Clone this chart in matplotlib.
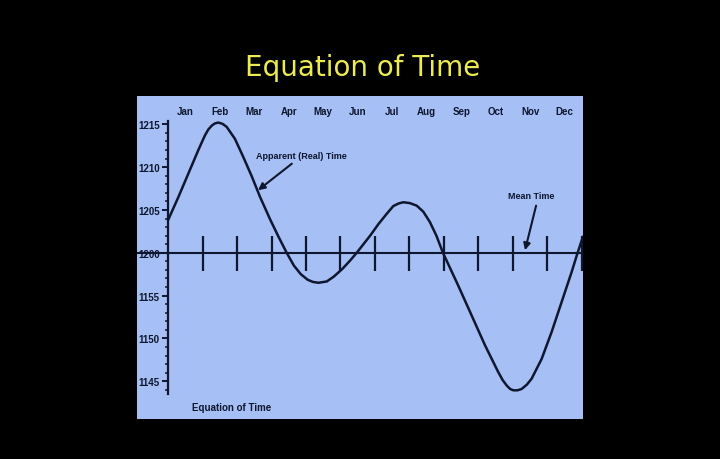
import matplotlib
matplotlib.use("Agg")
import matplotlib.pyplot as plt
from matplotlib.ticker import FixedLocator

# ---- data ----
months = ["Jan", "Feb", "Mar", "Apr", "May", "Jun",
          "Jul", "Aug", "Sep", "Oct", "Nov", "Dec"]
month_bounds = [1, 2, 3, 4, 5, 6, 7, 8, 9, 10, 11, 12]

# time of year in months (0 = 1 Jan) and apparent-time offset in minutes
t_months = [0.00, 0.30, 0.59, 0.88, 1.07, 1.17, 1.27, 1.36, 1.46, 1.58,
            1.70, 1.94, 2.18, 2.43, 2.67, 2.96, 3.20, 3.44, 3.65, 3.85,
            4.05, 4.20, 4.36, 4.60, 4.80, 5.05, 5.28, 5.47, 5.86, 6.10,
            6.34, 6.53, 6.68, 6.82, 7.01, 7.21, 7.40, 7.59, 7.78, 7.97,
            8.41, 8.80, 9.19, 9.57, 9.70, 9.82, 9.92, 10.01, 10.13, 10.25,
            10.40, 10.54, 10.83, 11.12, 11.41, 11.70, 11.85, 12.03]
offset_min = [3.8, 6.5, 9.25, 12.0, 13.7, 14.4, 14.85, 15.1, 15.2, 15.05,
              14.7, 13.3, 11.2, 8.9, 6.5, 3.9, 1.9, 0.0, -1.5, -2.5,
              -3.15, -3.4, -3.5, -3.35, -2.8, -1.9, -0.9, 0.0, 2.0, 3.35,
              4.55, 5.45, 5.75, 5.9, 5.8, 5.5, 4.8, 3.6, 2.0, 0.0,
              -3.8, -7.3, -10.8, -13.9, -14.85, -15.5, -15.9, -16.05, -16.05, -15.9,
              -15.4, -14.7, -12.4, -9.25, -5.75, -2.25, -0.3, 1.9]

ytick_vals = [15, 10, 5, 0, -5, -10, -15]
ytick_labels = ["1215", "1210", "1205", "1200", "1155", "1150", "1145"]
minor_tick_vals = [-16, -14, -13, -12, -11, -9, -8, -7, -6, -4, -3, -2, -1,
                   1, 2, 3, 4, 6, 7, 8, 9, 11, 12, 13, 14]

# ---- styling ----
BG = "#000000"
PANEL = "#a6bff4"
INK = "#0e1630"
TITLE_C = "#ecec52"

fig = plt.figure(figsize=(7.2, 4.6), dpi=100, facecolor=BG)
fig.text(0.504, 0.852, "Equation of Time", color=TITLE_C, fontsize=20,
         family="DejaVu Sans", ha="center", va="center")

ax = fig.add_axes([137 / 720, 1 - 420 / 460, 446 / 720, 323 / 460])
ax.set_facecolor(PANEL)
ax.set_xlim(-0.899, 12.03)
ax.set_ylim(-19.4, 18.3)

for s in ["top", "right", "bottom"]:
    ax.spines[s].set_visible(False)
ax.spines["left"].set_position(("data", 0))
ax.spines["left"].set_bounds(-16.5, 15.4)
ax.spines["left"].set_color(INK)
ax.spines["left"].set_linewidth(1.6)
ax.set_xticks([])
ax.yaxis.set_major_locator(FixedLocator(ytick_vals))
ax.set_yticklabels(ytick_labels)
ax.yaxis.set_minor_locator(FixedLocator(minor_tick_vals))
ax.tick_params(axis="y", which="major", direction="out", length=4.5,
               width=1.4, color=INK, pad=1.5, labelsize=7, labelcolor=INK)
ax.tick_params(axis="y", which="minor", direction="out", length=2.2,
               width=1.1, color=INK)
for lab in ax.get_yticklabels():
    lab.set_family("Liberation Sans")
    lab.set_fontweight("bold")

# mean time line with month boundary ticks
ax.axhline(0, color=INK, lw=1.5, zorder=2)
ax.vlines(month_bounds, -2.1, 2.0, color=INK, lw=1.6, zorder=2)

# month labels
for i, m in enumerate(months):
    ax.text(i + 0.5, 16.6, m, ha="center", va="center", fontsize=7,
            family="Liberation Sans", fontweight="bold", color=INK)

# apparent time curve
ax.plot(t_months, offset_min, color=INK, lw=1.8, zorder=3,
        solid_capstyle="round", solid_joinstyle="round")

# annotations
ax.annotate("", xy=(2.61, 7.3), xytext=(3.59, 10.4),
            arrowprops=dict(arrowstyle="-|>", color=INK, lw=1.5,
                            mutation_scale=10, shrinkA=0, shrinkB=0))
ax.text(3.88, 11.3, "Apparent (Real) Time", ha="center", va="center",
        fontsize=6.5, family="Liberation Sans", fontweight="bold", color=INK)
ax.annotate("", xy=(10.35, 0.3), xytext=(10.67, 5.5),
            arrowprops=dict(arrowstyle="-|>", color=INK, lw=1.5,
                            mutation_scale=10, shrinkA=0, shrinkB=0))
ax.text(10.54, 6.7, "Mean Time", ha="center", va="center",
        fontsize=6.5, family="Liberation Sans", fontweight="bold", color=INK)

ax.text(0.69, -17.97, "Equation of Time", ha="left", va="center",
        fontsize=7, family="Liberation Sans", fontweight="bold", color=INK)

fig.savefig("out.png", dpi=100, facecolor=BG)
